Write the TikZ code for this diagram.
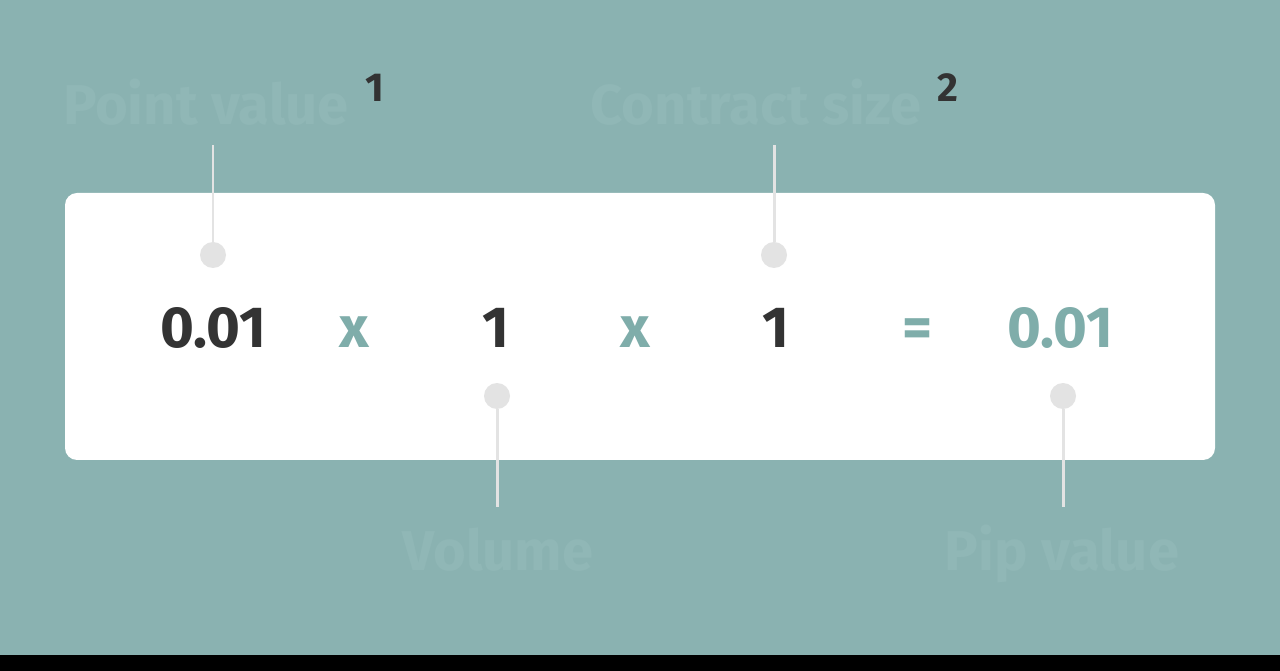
\documentclass[tikz,border=0pt]{standalone}
\usepackage{fontspec}
\setmainfont{Fira Sans}
\usetikzlibrary{positioning}

\definecolor{bgteal}{HTML}{8AB2B1}
\definecolor{labteal}{HTML}{90B7B6}
\definecolor{numdark}{HTML}{333333}
\definecolor{numteal}{HTML}{7FADAA}
\definecolor{pin}{HTML}{E3E3E3}

\tikzset{
  num/.style={anchor=base,font=\bfseries\fontsize{33}{33}\selectfont,text=numdark},
  op/.style={anchor=base,font=\bfseries\fontsize{33}{33}\selectfont,text=numteal},
  lab/.style={anchor=base,font=\bfseries\fontsize{32}{32}\selectfont,text=labteal},
  sup/.style={anchor=base,font=\bfseries\fontsize{23}{23}\selectfont,text=numdark},
  dot/.style={circle,fill=pin,inner sep=0pt,minimum size=0.52cm},
  pinline/.style={draw=pin,line width=1.7pt}
}

\begin{document}
\begin{tikzpicture}[x=0.02cm,y=-0.02cm]
  \fill[bgteal] (0,0) rectangle (1280,655);
  \fill[black] (0,655) rectangle (1280,671);
  \useasboundingbox (0,0) rectangle (1280,671);

  \fill[white,rounded corners=0.24cm] (65,193) rectangle (1215,460);

  \path
  (213,348)  node[num](pv)   {0.01}
  (354,348)  node[op](m1)    {x}
  (496,348)  node[num](vol)  {1}
  (635,348)  node[op](m2)    {x}
  (776,348)  node[num](cs)   {1}
  (918,348)  node[op](eq)    {=}
  (1060,348) node[op](res)   {0.01}

  (213,255)  node[dot](d1) {}
  (774,255)  node[dot](d2) {}
  (497,396)  node[dot](d3) {}
  (1063,396) node[dot](d4) {}

  (213,145)  coordinate(t1)
  (774,145)  coordinate(t2)
  (497,507)  coordinate(t3)
  (1063,507) coordinate(t4)

  (206,125)  node[lab](l1) {Point value}
  (756,125)  node[lab](l2) {Contract size}
  (498,570)  node[lab](l3) {Volume}
  (1062,570) node[lab](l4) {Pip value}

  (375,102)  node[sup](s1) {1}
  (948,102)  node[sup](s2) {2}
  ;

  \draw[pinline] (t1) -- (d1);
  \draw[pinline] (t2) -- (d2);
  \draw[pinline] (d3) -- (t3);
  \draw[pinline] (d4) -- (t4);

\end{tikzpicture}
\end{document}
